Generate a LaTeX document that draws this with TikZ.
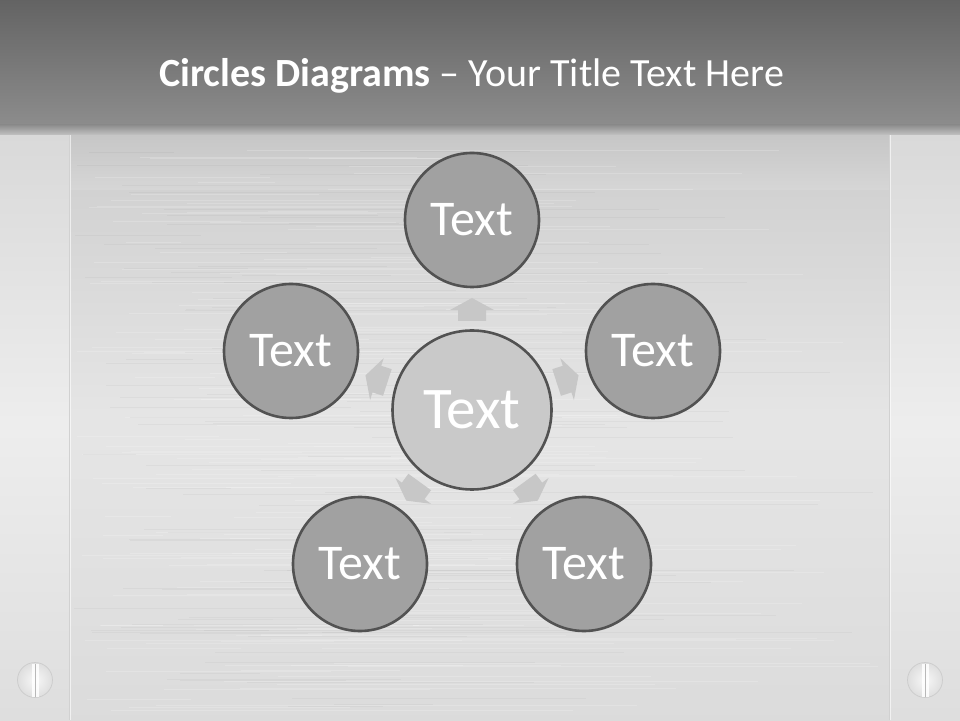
\documentclass[tikz,border=0pt]{standalone}
\usepackage{fontspec}
\setmainfont{Carlito}
\begin{document}
\begin{tikzpicture}[x=1pt,y=1pt,
  outer/.style={circle,draw=black!68,line width=2.6pt,fill=black!37,
    minimum size=134pt,inner sep=0pt,text=white,font=\fontsize{50}{54}\selectfont},
  centre/.style={circle,draw=black!68,line width=2.6pt,fill=black!21,
    minimum size=159pt,inner sep=0pt,text=white,font=\fontsize{59}{63}\selectfont},
  arrowfill/.style={fill=black!22},
  screw/.style={circle,draw=black!20,line width=0.7pt,inner color=black!3,outer color=black!13,minimum size=35pt,inner sep=0pt}]
\useasboundingbox (0,0) rectangle (960,720);
% body background
\shade[top color=black!20,bottom color=black!14,middle color=black!10] (0,0) rectangle (960,600);
\shade[top color=black!24,bottom color=black!16] (0,530) rectangle (960,600);
% side panels
\shade[top color=black!15,bottom color=black!13,middle color=black!7] (0,0) rectangle (70,590);
\shade[top color=black!15,bottom color=black!13,middle color=black!7] (890,0) rectangle (960,590);
\draw[white,opacity=0.6,line width=0.8pt] (70,0) -- (70,590);
\draw[white,opacity=0.6,line width=0.8pt] (890,0) -- (890,590);
\draw[black!18,line width=0.5pt] (68.8,0) -- (68.8,590);
\draw[black!18,line width=0.5pt] (888.8,0) -- (888.8,590);
% brushed texture
\pgfmathsetseed{7}
\foreach \i in {1,...,160}{
  \pgfmathsetmacro{\yy}{rnd*560+10}
  \pgfmathsetmacro{\xa}{rnd*300+72}
  \pgfmathsetmacro{\xb}{\xa+rnd*500+50}
  \pgfmathsetmacro{\xc}{min(\xb,888)}
  \draw[white,opacity=0.18,line width=0.6pt] (\xa,\yy) -- (\xc,\yy);
}
\foreach \i in {1,...,90}{
  \pgfmathsetmacro{\yy}{rnd*560+10}
  \pgfmathsetmacro{\xa}{rnd*300+72}
  \pgfmathsetmacro{\xb}{\xa+rnd*500+50}
  \pgfmathsetmacro{\xc}{min(\xb,888)}
  \draw[black,opacity=0.03,line width=0.6pt] (\xa,\yy) -- (\xc,\yy);
}
% header
\shade[top color=black!61,bottom color=black!45] (0,595) rectangle (960,720);
\shade[top color=black!45,bottom color=black!24] (0,585) rectangle (960,595.2);
% title
\node[anchor=base west,inner sep=0pt,text=white,font=\fontsize{40}{44}\selectfont] (title) at (159,633)
  {\textbf{Circles Diagrams} – Your Title Text Here};
% arrows
\coordinate (c) at (472,310);
\foreach \a in {90,18,162,-54,-126}{
  \begin{scope}[shift={(c)},rotate=\a-90]
    \fill[arrowfill] (-14,89) -- (14,89) -- (14,100) -- (22,100) -- (0,112) -- (-22,100) -- (-14,100) -- cycle;
  \end{scope}
}
% circles
\node[centre] (ctr) at (c) {Text};
\node[outer] (top) at (472,500) {Text};
\node[outer] (right) at (653,369) {Text};
\node[outer] (left) at (291,369) {Text};
\node[outer] (bl) at (360,156) {Text};
\node[outer] (br) at (584,156) {Text};
% screws
\foreach \n/\x in {sl/35,sr/925}{
  \node[screw] (\n) at (\x,40) {};
  \fill[white,opacity=0.85] (\x-3.5,23.5) rectangle (\x+3.5,56.5);
  \draw[black!28,line width=0.9pt] (\x,23.5) -- (\x,56.5);
}
\end{tikzpicture}
\end{document}
